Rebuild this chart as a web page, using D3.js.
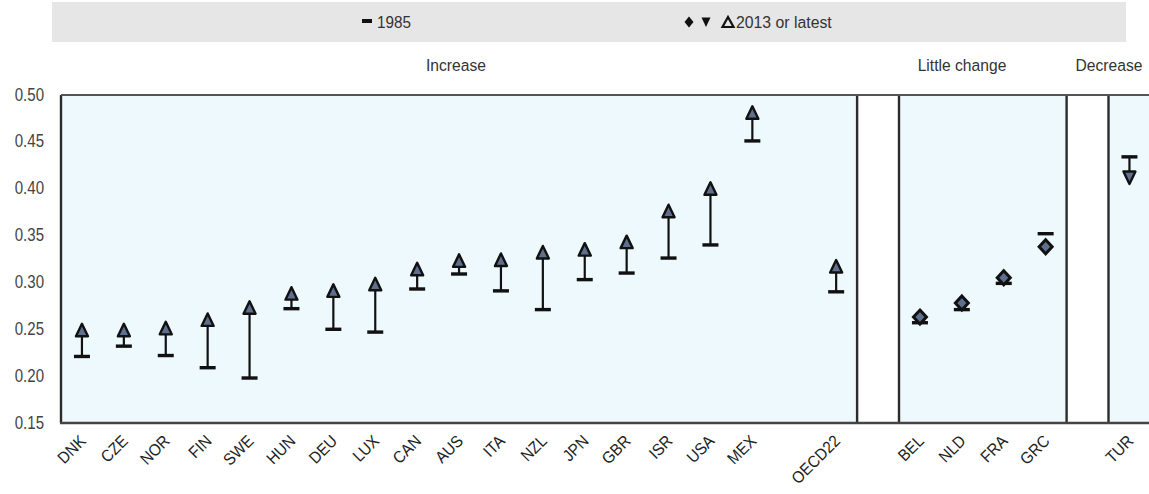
<!DOCTYPE html>
<html><head><meta charset="utf-8">
<script src="https://cdn.jsdelivr.net/npm/d3@7"></script>
<style>
html,body{margin:0;padding:0;background:#fff;}
svg text{font-family:'Liberation Sans Narrow','Liberation Sans',Arial,sans-serif;}
</style></head>
<body><svg id="c" width="1149" height="494"></svg>
<script>
const categories = ["DNK","CZE","NOR","FIN","SWE","HUN","DEU","LUX","CAN","AUS","ITA","NZL","JPN","GBR","ISR","USA","MEX","OECD22","BEL","NLD","FRA","GRC","TUR"];
const v1985 = [0.221,0.232,0.222,0.209,0.198,0.272,0.250,0.247,0.293,0.309,0.291,0.271,0.303,0.310,0.326,0.340,0.451,0.290,0.257,0.271,0.299,0.352,0.434];
const v2013 = [0.249,0.249,0.251,0.260,0.273,0.288,0.291,0.298,0.314,0.323,0.324,0.332,0.335,0.343,0.376,0.400,0.481,0.317,0.263,0.278,0.305,0.338,0.412];
const groups = ["Increase","Increase","Increase","Increase","Increase","Increase","Increase","Increase","Increase","Increase","Increase","Increase","Increase","Increase","Increase","Increase","Increase","Increase","Little change","Little change","Little change","Little change","Decrease"];
const yTicks = [0.15,0.20,0.25,0.30,0.35,0.40,0.45,0.50];
const groupNames = ["Increase","Little change","Decrease"];
const legendLabels = ["1985","2013 or latest"];

// slot order including blank/gap slots
const slots = ["DNK","CZE","NOR","FIN","SWE","HUN","DEU","LUX","CAN","AUS","ITA","NZL","JPN","GBR","ISR","USA","MEX","_blank","OECD22","_gap1","BEL","NLD","FRA","GRC","_gap2","TUR"];

const svg = d3.select("#c");
const pLeft = 61, pTop = 95, pBottom = 423;
const x = d3.scaleBand().domain(slots).range([pLeft, pLeft + 26*41.9]).padding(0);
const y = d3.scaleLinear().domain([0.15,0.50]).range([pBottom, pTop]);
const bw = x.bandwidth();
const dark = "#2b2b2b";

function sText(parent, tx, ty, sx, size, txt, anchor, fill){
  return parent.append("text").attr("transform",`translate(${tx},${ty}) scale(${sx},1)`)
    .attr("font-size",size).attr("fill",fill||"#333").attr("text-anchor",anchor||"start").text(txt);
}

// legend box
svg.append("rect").attr("x",52).attr("y",2).attr("width",1074).attr("height",40).attr("fill","#e6e6e6");
const lg = svg.append("g");
lg.append("rect").attr("x",362).attr("y",19).attr("width",10).attr("height",4).attr("fill","#111");
sText(lg, 377, 28, 0.9, 17, legendLabels[0]);
lg.append("path").attr("d","M0,-5.5 L4.5,0 L0,5.5 L-4.5,0 Z").attr("transform","translate(689,22)").attr("fill","#111");
lg.append("path").attr("d","M-4.5,-4.5 L4.5,-4.5 L0,5 Z").attr("transform","translate(706,22)").attr("fill","#111");
lg.append("path").attr("d","M-5.5,5 L5.5,5 L0,-5 Z").attr("transform","translate(728,22)").attr("fill","none").attr("stroke","#111").attr("stroke-width",2.2);
sText(lg, 736, 28, 0.93, 17, legendLabels[1]);

// group labels
const groupLabelX = {"Increase":456,"Little change":962,"Decrease":1109};
groupNames.forEach(g=>{
  sText(svg, groupLabelX[g], 71, 0.92, 17, g, "middle");
});

// panels
const panels = [
  {x0:x("DNK"), x1:x("OECD22")+bw, fill:"#eef9fd"},
  {x0:x("_gap1"), x1:x("_gap1")+bw, fill:"#ffffff"},
  {x0:x("BEL"), x1:x("GRC")+bw, fill:"#eef9fd"},
  {x0:x("_gap2"), x1:x("_gap2")+bw, fill:"#ffffff"},
  {x0:x("TUR"), x1:x("TUR")+bw, fill:"#eef9fd"}
];
svg.selectAll("rect.panel").data(panels).enter().append("rect").attr("class","panel")
  .attr("x",d=>d.x0).attr("y",pTop).attr("width",d=>d.x1-d.x0).attr("height",pBottom-pTop).attr("fill",d=>d.fill);
const seps = [x("DNK"), x("_gap1"), x("BEL"), x("_gap2"), x("TUR")];
svg.selectAll("line.sep").data(seps).enter().append("line")
  .attr("x1",d=>d).attr("x2",d=>d).attr("y1",pTop).attr("y2",pBottom)
  .attr("stroke",dark).attr("stroke-width",2.4);
svg.append("line").attr("x1",pLeft).attr("x2",1149).attr("y1",pTop).attr("y2",pTop).attr("stroke","#555").attr("stroke-width",2);
svg.append("line").attr("x1",pLeft-1).attr("x2",1149).attr("y1",pBottom).attr("y2",pBottom).attr("stroke","#444").attr("stroke-width",2.6);

// y axis labels
yTicks.forEach(v=>{
  sText(svg, 44, y(v)+5.5, 0.86, 17.5, d3.format(".2f")(v), "end", "#444");
});

// x labels
svg.selectAll("text.xl").data(categories).enter().append("text").attr("class","xl")
  .attr("transform",d=>`translate(${x(d)+bw/2+5},${pBottom+19}) rotate(-45) scale(0.92,1)`)
  .attr("text-anchor","end").attr("font-size",16.5).attr("fill","#222").text(d=>d);

// marks
const data = categories.map((c,i)=>({c, a:v1985[i], b:v2013[i], g:groups[i]}));
const mk = svg.append("g");
const fillC = "#5f6f8e";
data.forEach(d=>{
  const cx = x(d.c)+bw/2;
  const ya = y(d.a), yb = y(d.b);
  if (d.g === "Increase") {
    mk.append("line").attr("x1",cx).attr("x2",cx).attr("y1",ya).attr("y2",yb+6).attr("stroke","#111").attr("stroke-width",2.2);
    mk.append("rect").attr("x",cx-8).attr("y",ya-1.7).attr("width",16).attr("height",3.4).attr("fill","#111");
    mk.append("path").attr("d","M0,-6.5 L6,6 L-6,6 Z").attr("transform",`translate(${cx},${yb})`)
      .attr("fill",fillC).attr("stroke","#111").attr("stroke-width",2.4).attr("stroke-linejoin","round");
  } else if (d.g === "Decrease") {
    mk.append("line").attr("x1",cx).attr("x2",cx).attr("y1",ya).attr("y2",yb-6).attr("stroke","#111").attr("stroke-width",2.2);
    mk.append("rect").attr("x",cx-8).attr("y",ya-1.7).attr("width",16).attr("height",3.4).attr("fill","#111");
    mk.append("path").attr("d","M0,6.5 L6,-6 L-6,-6 Z").attr("transform",`translate(${cx},${yb})`)
      .attr("fill",fillC).attr("stroke","#111").attr("stroke-width",2.4).attr("stroke-linejoin","round");
  } else {
    mk.append("rect").attr("x",cx-8).attr("y",ya-1.7).attr("width",16).attr("height",3.4).attr("fill","#111");
    mk.append("path").attr("d","M0,-7 L6.5,0 L0,7 L-6.5,0 Z").attr("transform",`translate(${cx},${yb})`)
      .attr("fill",fillC).attr("stroke","#111").attr("stroke-width",3);
  }
});
</script></body></html>
